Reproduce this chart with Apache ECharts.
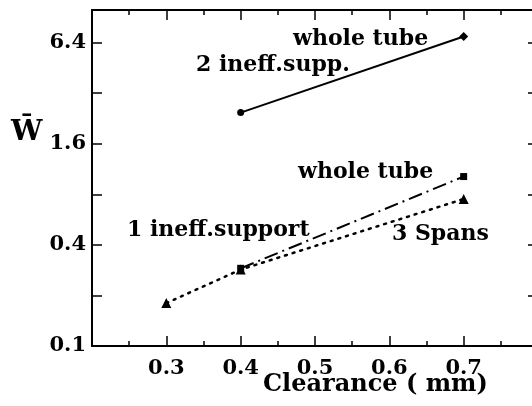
<!DOCTYPE html>
<html>
<head>
<meta charset="utf-8">
<script src="https://cdn.jsdelivr.net/npm/echarts@6/dist/echarts.min.js"></script>
<style>
  html, body { margin: 0; padding: 0; background: #fff; }
  #chart { width: 532px; height: 406px; }
</style>
</head>
<body>
<div id="chart"></div>
<script>
// clearance (mm) vs W-bar, log scale on y
var xTickLabels = [0.3, 0.4, 0.5, 0.6, 0.7];
var yTickLabels = [0.1, 0.4, 1.6, 6.4];
var yTicks = [0.1, 0.2, 0.4, 0.8, 1.6, 3.2, 6.4];

var ineffSupp2 = [[0.4, 2.45], [0.7, 6.95]];      // 2 ineff.supp. -> whole tube
var ineffSupport1 = [[0.4, 0.29], [0.7, 1.02]];   // 1 ineff.support -> whole tube
var spans3 = [[0.3, 0.18], [0.4, 0.285], [0.7, 0.75]]; // 3 Spans

var FONT = 'DejaVu Serif';
var chart = echarts.init(document.getElementById('chart'), null, { renderer: 'canvas' });

var xBase = {
  type: 'value',
  min: 0.2,
  max: 0.8,
  interval: 0.1,
  splitLine: { show: false },
  axisLine: { lineStyle: { color: '#000', width: 2 } },
  axisTick: { inside: true, length: 10, lineStyle: { color: '#000', width: 1.5 } },
  minorTick: { show: true, splitNumber: 2, length: 5, lineStyle: { color: '#000', width: 1.5 } }
};
var yBase = {
  type: 'log',
  logBase: 4,
  min: 0.1,
  max: 10,
  splitLine: { show: false },
  axisLine: { lineStyle: { color: '#000', width: 2 } },
  axisTick: { inside: true, length: 10, customValues: yTicks, lineStyle: { color: '#000', width: 1.5 } }
};

var option = {
  backgroundColor: '#fff',
  animation: false,
  // plot runs a little past the right edge, so the right spine is cut off
  grid: { left: 92, top: 10, height: 336, width: 446, outerBoundsMode: 'none' },
  xAxis: [
    Object.assign({}, xBase, {
      position: 'bottom',
      axisLabel: {
        customValues: xTickLabels,
        color: '#000', fontFamily: FONT, fontWeight: 'bold', fontSize: 21, margin: 12
      }
    }),
    Object.assign({}, xBase, { position: 'top', axisLabel: { show: false } })
  ],
  yAxis: [
    Object.assign({}, yBase, {
      position: 'left',
      axisLabel: {
        customValues: yTickLabels,
        color: '#000', fontFamily: FONT, fontWeight: 'bold', fontSize: 21, margin: 6
      }
    }),
    Object.assign({}, yBase, { position: 'right', axisLabel: { show: false } })
  ],
  series: [
    {
      type: 'line',
      data: [
        { value: ineffSupp2[0], symbol: 'circle', symbolSize: 7 },
        { value: ineffSupp2[1], symbol: 'diamond', symbolSize: 9 }
      ],
      itemStyle: { color: '#000' },
      lineStyle: { color: '#000', width: 2 }
    },
    {
      type: 'line',
      data: ineffSupport1,
      symbol: 'rect',
      symbolSize: 7,
      itemStyle: { color: '#000' },
      lineStyle: { color: '#000', width: 2, type: [14, 5, 2, 5] }
    },
    {
      type: 'line',
      data: spans3,
      symbol: 'triangle',
      symbolSize: 10,
      itemStyle: { color: '#000' },
      lineStyle: { color: '#000', width: 2.5, type: [2, 6], cap: 'round' }
    }
  ],
  graphic: [
    { type: 'text', left: 293, top: 28, style: { text: 'whole tube', font: 'bold 22px ' + FONT, fill: '#000' } },
    { type: 'text', left: 196, top: 54, style: { text: '2 ineff.supp.', font: 'bold 22px ' + FONT, fill: '#000' } },
    { type: 'text', left: 298, top: 161, style: { text: 'whole tube', font: 'bold 22px ' + FONT, fill: '#000' } },
    { type: 'text', left: 127, top: 219, style: { text: '1 ineff.support', font: 'bold 22px ' + FONT, fill: '#000' } },
    { type: 'text', left: 392, top: 223, style: { text: '3 Spans', font: 'bold 22px ' + FONT, fill: '#000' } },
    { type: 'text', left: 263, top: 373, style: { text: 'Clearance ( mm)', font: 'bold 24px ' + FONT, fill: '#000' } },
    { type: 'text', left: 11, top: 119, style: { text: 'W\u0304', font: 'bold 28px ' + FONT, fill: '#000' } }
  ]
};

chart.setOption(option);
</script>
</body>
</html>
